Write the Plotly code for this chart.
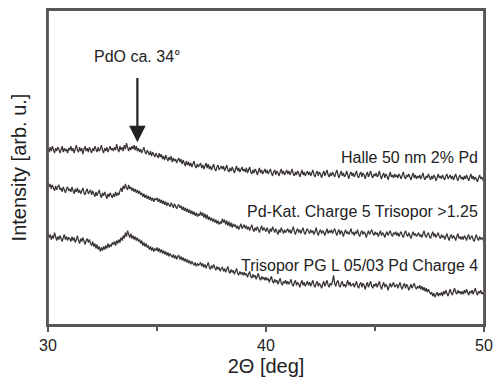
import plotly.graph_objects as go

two_theta = [round(30 + 0.05 * i, 2) for i in range(401)]

halle = [
    178,174,179,175,180,176,173,178,175,179,177,173,176,180,174,178,175,177,173,178,
    176,180,175,178,173,177,181,176,174,179,175,178,172,177,180,175,178,174,179,176,
    173,178,175,180,176,174,179,175,177,181,176,173,178,175,179,174,177,180,176,178,
    175,179,176,182,177,174,180,176,179,175,181,177,183,178,175,179,176,180,177,181,
    176,180,175,178,174,177,173,176,179,174,172,176,173,171,175,170,174,172,169,173,
    171,168,173,169,172,167,170,166,171,168,165,169,166,170,164,168,165,167,163,166,
    168,164,167,162,166,163,160,165,161,164,160,163,159,162,165,160,158,162,159,161,
    163,158,161,157,160,163,158,162,157,160,156,159,162,157,155,159,161,156,158,160,
    157,160,155,158,161,156,154,158,155,159,156,153,157,160,155,158,154,156,159,155,
    157,154,158,153,156,159,154,152,156,153,157,155,151,155,158,153,156,152,155,157,
    153,156,152,155,157,153,150,154,156,151,155,153,150,154,157,152,155,151,153,156,
    152,155,151,154,157,152,150,154,151,155,153,149,153,156,151,154,150,153,155,151,
    154,150,153,156,151,149,153,155,150,154,152,148,152,155,150,153,156,151,149,153,
    150,154,151,149,153,156,151,148,152,155,150,153,149,151,155,150,147,152,154,150,
    153,149,152,155,150,148,152,154,149,153,151,147,151,154,149,152,155,150,148,152,
    150,153,149,151,155,150,147,151,153,148,152,150,146,150,154,149,151,148,152,149,
    151,148,152,150,147,151,154,149,147,151,149,152,148,146,150,153,148,151,147,150,
    148,151,147,150,153,148,146,150,148,152,149,146,150,147,151,149,145,149,152,148,
    150,147,151,148,146,150,152,147,149,151,147,150,146,149,152,148,145,149,151,147,
    149,146,150,147,151,148,145,149,152,147,150,146,149,147,144,148,151,147,149,146,
    147,
]

pdkat = [
    143,139,142,137,141,138,135,140,136,139,141,136,138,134,139,136,133,137,139,135,
    137,134,139,135,132,137,134,138,133,136,132,135,138,133,131,135,137,132,134,136,
    131,135,132,129,134,130,133,136,131,128,133,130,134,131,127,132,129,133,130,128,
    132,129,134,130,133,131,135,138,134,140,137,142,138,136,141,137,139,135,138,134,
    137,133,136,132,135,131,133,129,132,128,131,127,130,126,129,125,128,124,127,126,
    128,124,127,123,126,122,125,121,124,120,123,121,119,123,120,118,122,119,117,120,
    121,118,120,116,119,115,118,114,117,113,116,112,115,111,114,110,113,109,112,110,
    114,110,113,108,112,107,111,106,109,105,108,104,107,103,106,102,105,101,104,102,
    107,103,106,101,105,100,104,99,103,98,102,99,101,97,100,96,99,102,97,100,
    101,97,100,96,99,95,98,101,96,94,98,95,99,96,93,97,100,95,98,96,
    94,98,95,92,97,94,99,95,93,97,94,91,96,93,98,94,92,96,93,95,
    97,93,96,92,95,99,94,91,95,97,93,96,92,95,98,93,91,95,97,94,
    92,96,93,95,91,94,98,93,90,94,96,92,95,93,90,94,97,92,95,93,
    96,92,94,97,93,90,94,96,91,95,93,89,93,96,92,94,91,95,97,92,
    93,90,94,92,96,91,89,93,95,91,94,92,88,92,95,91,93,96,92,90,
    94,91,93,89,92,95,90,93,91,88,92,94,90,92,95,91,89,93,91,94,
    90,93,89,92,94,90,88,92,95,91,89,93,90,87,91,94,90,92,89,91,
    93,89,91,88,92,95,90,88,91,93,89,87,91,94,89,92,88,90,93,89,
    87,91,88,90,86,89,92,88,85,89,91,87,90,88,85,89,92,87,89,86,
    89,86,90,88,85,89,91,86,88,90,86,84,88,91,87,85,89,86,88,85,
    84,
]

trisopor = [
    92,88,91,86,90,87,93,88,85,89,86,90,87,84,88,91,86,89,85,88,
    87,84,89,85,88,83,86,90,85,82,87,84,88,85,81,85,87,83,86,82,
    80,84,79,82,77,81,76,79,74,78,75,79,76,80,77,82,78,81,79,83,
    81,84,80,85,82,86,83,88,85,90,87,93,89,95,90,88,92,87,90,86,
    89,85,88,84,86,82,85,80,83,79,82,78,80,76,79,75,78,74,77,75,
    78,74,77,73,76,72,75,71,74,70,73,69,72,70,68,71,67,70,66,69,
    70,66,69,65,68,64,67,63,66,62,65,61,64,62,60,63,59,62,60,61,
    63,59,62,58,61,57,60,63,58,56,60,57,61,58,55,59,56,58,54,57,
    58,54,57,53,56,59,54,52,56,53,55,51,54,57,52,50,54,51,53,50,
    53,50,52,48,51,54,49,47,51,48,50,46,49,52,47,45,49,46,48,45,
    48,45,47,43,46,49,44,42,46,43,45,41,44,47,42,40,44,42,45,41,
    44,41,43,46,41,39,43,45,40,43,41,38,42,45,40,43,39,42,44,40,
    43,39,42,45,40,38,42,44,39,42,40,37,41,44,39,42,45,40,38,42,
    40,44,50,42,39,43,45,40,38,42,44,39,41,38,42,45,40,43,39,41,
    42,38,41,44,39,37,41,43,38,42,40,36,40,43,38,41,44,39,37,41,
    39,42,38,41,44,39,36,40,43,38,41,39,35,39,42,38,40,43,38,40,
    41,37,40,43,38,36,40,42,37,41,39,35,38,41,37,40,42,38,36,39,
    37,40,36,39,35,38,34,37,33,36,34,31,33,29,32,28,31,33,29,32,
    30,33,29,34,31,35,32,29,33,36,32,30,34,37,33,31,35,32,34,31,
    34,31,35,32,36,33,30,34,32,35,31,34,37,33,30,34,32,35,31,33,
    30,
]

series_names = ["Halle 50 nm 2% Pd", "Pd-Kat. Charge 5 Trisopor >1.25",
                "Trisopor PG L 05/03 Pd Charge 4"]
label_y = [169, 114, 60]
x_ticks = [30, 40, 50]

line_color = "#3a3333"
axis_color = "#5a5555"
text_color = "#222222"
font = "Liberation Sans, Arial, sans-serif"

fig = go.Figure()
for ys in (halle, pdkat, trisopor):
    fig.add_trace(go.Scatter(x=two_theta, y=ys, mode="lines",
                             line=dict(color=line_color, width=1.25),
                             showlegend=False, hoverinfo="skip"))

for name, ly in zip(series_names, label_y):
    fig.add_annotation(x=49.8, y=ly, xref="x", yref="y", text=name,
                       showarrow=False, xanchor="right", yanchor="middle",
                       font=dict(family=font, size=16, color=text_color))

fig.add_annotation(x=34.1, y=270, xref="x", yref="y", text="PdO ca. 34°",
                   showarrow=False, xanchor="center", yanchor="middle",
                   font=dict(family=font, size=16, color=text_color))
fig.add_annotation(x=34.1, y=184, xref="x", yref="y", ax=34.1, ay=250,
                   axref="x", ayref="y", text="", showarrow=True,
                   arrowhead=2, arrowsize=1.5, arrowwidth=2.2,
                   arrowcolor=text_color)

# plot frame
fig.add_shape(type="rect", xref="paper", yref="paper", x0=0, x1=1, y0=0, y1=1,
              line=dict(color=axis_color, width=1.8), layer="above")

fig.update_layout(
    width=494, height=381,
    margin=dict(l=48, r=10, t=10, b=56),
    paper_bgcolor="white", plot_bgcolor="white",
    font=dict(family=font, color=text_color),
)
fig.update_xaxes(range=[30, 50], tickvals=x_ticks, ticks="outside",
                 ticklen=5, tickwidth=1.5, tickcolor=axis_color,
                 minor=dict(tickvals=[35, 45], ticks="outside", ticklen=4,
                            tickcolor=axis_color, tickwidth=1.5),
                 showline=True, linecolor=axis_color, linewidth=1.8,
                 mirror=True, showgrid=False, zeroline=False,
                 automargin=False,
                 tickfont=dict(size=16, color=text_color),
                 title=dict(text="2Θ [deg]", font=dict(size=20, color=text_color),
                            standoff=6))
fig.update_yaxes(range=[0, 317], showticklabels=False, ticks="",
                 showline=True, linecolor=axis_color, linewidth=1.8,
                 mirror=True, showgrid=False, zeroline=False,
                 automargin=False,
                 title=dict(text="Intensity [arb. u.]",
                            font=dict(size=20, color=text_color), standoff=14))

fig.write_html("out.html",
               config={"displayModeBar": False, "responsive": False},
               post_script="document.body.style.margin='0';"
                           "document.body.style.overflow='hidden';")
